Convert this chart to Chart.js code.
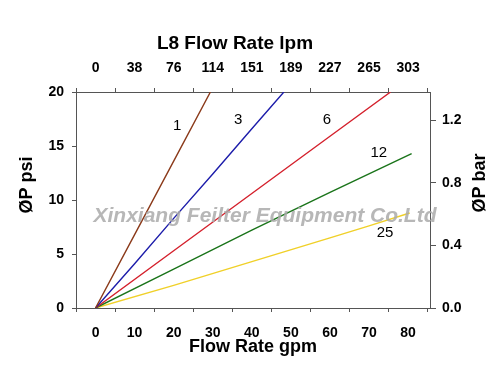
<!DOCTYPE html>
<html lang="en">

<head>
    <meta charset="UTF-8">
    <title>L8 Flow Rate</title>
    <script src="https://cdn.jsdelivr.net/npm/chart.js@4.4.1/dist/chart.umd.min.js"></script>
</head>
<style>
    body {
        margin: 0;
        background: #fff;
    }
</style>

<body>
    <canvas id="chart" width="500" height="374"></canvas>
    <script>
        // flow (gpm) and pressure drop (psi), one pair per element
        const flow1 = [0, 10, 20, 29.4];
        const dp1 = [0, 6.8, 13.6, 20];
        const flow3 = [0, 10, 20, 30, 40, 48.2];
        const dp3 = [0, 4.1, 8.3, 12.4, 16.6, 20];
        const flow6 = [0, 20, 40, 60, 75.5];
        const dp6 = [0, 5.3, 10.6, 15.9, 20];
        const flow12 = [0, 20, 40, 60, 80.9];
        const dp12 = [0, 3.6, 7.2, 10.7, 14.3];
        const flow25 = [0, 20, 40, 60, 70, 80.4];
        const dp25 = [0, 2.1, 4.3, 6.5, 7.6, 8.8];

        const curveNames = ['1', '3', '6', '12', '25'];
        const curveColors = ['#8b3a1a', '#1c1caa', '#d4202c', '#1a741a', '#f0d028'];
        // where the curve names sit, in gpm / psi
        const nameX = [20.9, 36.5, 59.2, 72.5, 74.1];
        const nameY = [16.9, 17.4, 17.4, 14.35, 7.0];

        const gpmTicks = [0, 10, 20, 30, 40, 50, 60, 70, 80];
        const lpmTicks = ['0', '38', '76', '114', '151', '189', '227', '265', '303'];
        const barTicks = [0, 0.4, 0.8, 1.2];
        const PSI_PER_BAR = 14.5038;

        const flows = [flow1, flow3, flow6, flow12, flow25];
        const dps = [dp1, dp3, dp6, dp12, dp25];

        const FONT = "'Liberation Sans', Arial, sans-serif";
        const AXIS = '#555';

        const datasets = flows.map((f, i) => ({
            label: curveNames[i],
            data: f.map((x, j) => ({ x: x, y: dps[i][j] })),
            borderColor: curveColors[i],
            borderWidth: 1.4,
            pointRadius: 0,
            tension: 0,
            fill: false
        }));

        const textPlugin = {
            id: 'texts',
            afterDatasetsDraw(chart) {
                const ctx = chart.ctx;
                const xs = chart.scales.x;
                const ys = chart.scales.y;
                ctx.save();
                ctx.textAlign = 'center';
                ctx.textBaseline = 'middle';

                // curve names
                ctx.fillStyle = '#000';
                ctx.font = '15px ' + FONT;
                curveNames.forEach((n, i) => {
                    ctx.fillText(n, xs.getPixelForValue(nameX[i]), ys.getPixelForValue(nameY[i]));
                });

                // watermark
                ctx.fillStyle = 'rgba(170,170,170,0.85)';
                ctx.font = 'italic bold 21px ' + FONT;
                ctx.fillText('Xinxiang Feilter Equipment Co.Ltd', 265, 216);

                // titles
                ctx.fillStyle = '#000';
                ctx.font = 'bold 19px ' + FONT;
                ctx.fillText('L8 Flow Rate lpm', 235, 44);

                ctx.font = 'bold 18px ' + FONT;
                ctx.translate(27, 185);
                ctx.rotate(-Math.PI / 2);
                ctx.fillText('ØP psi', 0, 0);
                ctx.restore();

                ctx.save();
                ctx.fillStyle = '#000';
                ctx.font = 'bold 18px ' + FONT;
                ctx.textAlign = 'center';
                ctx.textBaseline = 'middle';
                ctx.translate(480, 183);
                ctx.rotate(-Math.PI / 2);
                ctx.fillText('ØP bar', 0, 0);
                ctx.restore();
            }
        };

        const tickFont = { family: FONT, size: 14, weight: 'bold' };

        new Chart(document.getElementById('chart'), {
            type: 'line',
            data: { datasets: datasets },
            plugins: [textPlugin],
            options: {
                responsive: false,
                animation: false,
                layout: { padding: 0 },
                plugins: {
                    legend: { display: false },
                    tooltip: { enabled: false }
                },
                scales: {
                    x: {
                        type: 'linear',
                        position: 'bottom',
                        min: -5,
                        max: 85.6,
                        afterBuildTicks: s => { s.ticks = gpmTicks.map(v => ({ value: v })); },
                        afterFit: s => { s.height = 66; },
                        ticks: { color: '#000', font: tickFont, padding: 13, maxRotation: 0 },
                        grid: { offset: true, drawOnChartArea: false, tickLength: 4, color: AXIS },
                        border: { color: AXIS },
                        title: {
                            display: true,
                            text: 'Flow Rate gpm',
                            color: '#000',
                            font: { family: FONT, size: 18, weight: 'bold' },
                            padding: { top: 0, bottom: 16 }
                        }
                    },
                    x2: {
                        type: 'linear',
                        position: 'top',
                        min: -5,
                        max: 85.6,
                        afterBuildTicks: s => { s.ticks = gpmTicks.map(v => ({ value: v })); },
                        afterFit: s => { s.height = 92; },
                        ticks: {
                            color: '#000',
                            font: tickFont,
                            padding: 11,
                            maxRotation: 0,
                            callback: (v, i) => lpmTicks[i]
                        },
                        grid: { offset: true, drawOnChartArea: false, tickLength: 4, color: AXIS },
                        border: { color: AXIS }
                    },
                    y: {
                        type: 'linear',
                        position: 'left',
                        min: 0,
                        max: 20,
                        afterFit: s => { s.width = 76; },
                        ticks: { stepSize: 5, color: '#000', font: tickFont, padding: 8 },
                        grid: { drawOnChartArea: false, tickLength: 4, color: AXIS },
                        border: { color: AXIS }
                    },
                    y2: {
                        type: 'linear',
                        position: 'right',
                        min: 0,
                        max: 20 / PSI_PER_BAR,
                        afterBuildTicks: s => { s.ticks = barTicks.map(v => ({ value: v })); },
                        afterFit: s => { s.width = 70; },
                        ticks: {
                            color: '#000',
                            font: tickFont,
                            padding: 6,
                            callback: v => v.toFixed(1)
                        },
                        grid: { drawOnChartArea: false, tickLength: 6, color: AXIS },
                        border: { color: AXIS }
                    }
                }
            }
        });
    </script>
</body>

</html>
